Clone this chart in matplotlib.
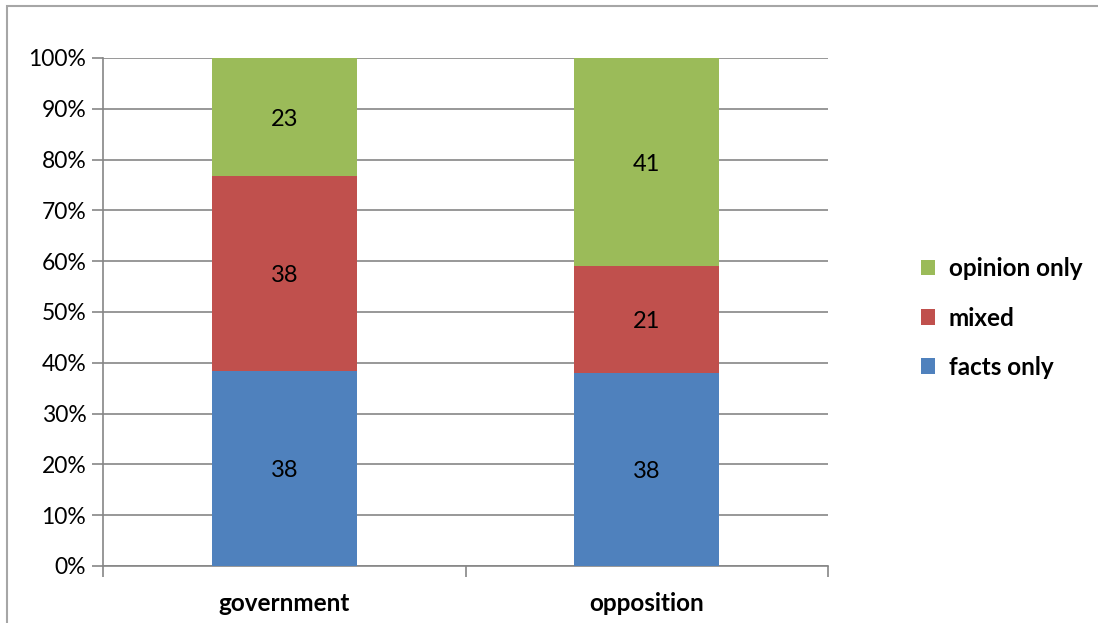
import matplotlib
matplotlib.use("Agg")
import matplotlib.pyplot as plt
from matplotlib.patches import Rectangle
import numpy as np

categories = ["government", "opposition"]
series_names = ["facts only", "mixed", "opinion only"]
facts_only = [38, 38]
mixed = [38, 21]
opinion_only = [23, 41]
colors = ["#4F81BD", "#C0504D", "#9BBB59"]
yticklabels = ["0%", "10%", "20%", "30%", "40%", "50%", "60%", "70%", "80%", "90%", "100%"]

plt.rcParams['font.family'] = ['Lato', 'DejaVu Sans']

fig = plt.figure(figsize=(10.98, 6.23), dpi=100)
fig.patches.append(Rectangle((7/1098, -10/623), 1110/1098, 627/623, transform=fig.transFigure,
                             fill=False, edgecolor="#A6A6A6", linewidth=1.5))
ax = fig.add_axes([103/1098, 1 - 566/623, 725/1098, 508/623])

data = np.array([facts_only, mixed, opinion_only], dtype=float)
totals = data.sum(axis=0)
pct = data / totals * 100
x = np.arange(len(categories))
bottom = np.zeros(len(categories))
handles = []
for i, name in enumerate(series_names):
    b = ax.bar(x, pct[i], 0.4, bottom=bottom, color=colors[i], label=name, zorder=3)
    handles.append(b)
    for j in range(len(categories)):
        ax.text(x[j], bottom[j] + pct[i][j] / 2, f"{int(data[i][j])}", ha="center",
                va="center_baseline", fontsize=17, color="black", zorder=4)
    bottom += pct[i]

ax.set_xlim(-0.5, 1.5)
ax.set_ylim(0, 100)
ax.set_yticks(np.arange(0, 101, 10))
ax.set_yticklabels(yticklabels, fontsize=16.5)
ax.yaxis.grid(True, color="#868686", linewidth=1.2, zorder=0)
ax.set_xticks([-0.5, 0.5, 1.5])
ax.set_xticklabels([])
ax.set_xticks(x, minor=True)
ax.set_xticklabels(categories, minor=True, fontsize=17.5, fontweight="bold")
ax.tick_params(axis="x", which="minor", length=0, pad=19)
ax.tick_params(axis="x", which="major", length=8, color="#868686", width=1.2)
ax.tick_params(axis="y", length=8, color="#868686", width=1.2, pad=4)
for s in ["top", "right"]:
    ax.spines[s].set_visible(False)
for s in ["left", "bottom"]:
    ax.spines[s].set_color("#868686")
    ax.spines[s].set_linewidth(1.2)

leg = fig.legend(handles[::-1], series_names[::-1], loc="center left",
                 bbox_to_anchor=(899/1098, 1 - 318/623), frameon=False,
                 prop={"size": 17.5, "weight": "bold"}, handlelength=0.6, handleheight=0.6,
                 labelspacing=1.08, handletextpad=0.55)

fig.savefig("out.png", dpi=100)
